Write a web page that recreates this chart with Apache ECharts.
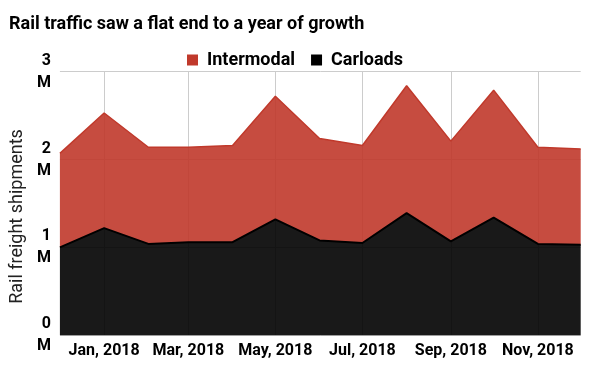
<!DOCTYPE html>
<html>
<head>
<meta charset="utf-8">
<script src="https://cdn.jsdelivr.net/npm/echarts@6/dist/echarts.min.js"></script>
<style>html,body{margin:0;padding:0;background:#fff}#c{width:600px;height:371px}</style>
</head>
<body>
<div id="c"></div>
<script>
// Monthly data points (first of each month), values in millions of shipments
const dates = ['2017-12-01','2018-01-01','2018-02-01','2018-03-01','2018-04-01','2018-05-01','2018-06-01','2018-07-01','2018-08-01','2018-09-01','2018-10-01','2018-11-01','2018-12-01'];
const carloads   = [1.00, 1.22, 1.04, 1.06, 1.06, 1.32, 1.08, 1.05, 1.39, 1.07, 1.34, 1.04, 1.03];
const intermodal = [1.07, 1.31, 1.10, 1.08, 1.10, 1.40, 1.16, 1.11, 1.45, 1.14, 1.45, 1.10, 1.09];
const monthNames = ['Jan','Feb','Mar','Apr','May','Jun','Jul','Aug','Sep','Oct','Nov','Dec'];
const yTicks = [0, 1, 2, 3];

const chart = echarts.init(document.getElementById('c'), null, {renderer:'canvas'});
const font = 'Roboto';
chart.setOption({
  animation: false,
  title: {
    text: 'Rail traffic saw a flat end to a year of growth',
    left: 9, top: 15, padding: 0,
    textStyle: {fontFamily: font, fontSize: 18, fontWeight: 'bold', color: '#000'}
  },
  legend: {
    data: ['Intermodal', 'Carloads'],
    left: 187, top: 51, padding: 0,
    icon: 'rect', itemWidth: 11, itemHeight: 11, itemGap: 16,
    textStyle: {fontFamily: font, fontSize: 18, fontWeight: 'bold', color: '#000', padding: [0,0,0,4]}
  },
  grid: {left: 59.3, right: 19.3, top: 71.7, bottom: 35.7},
  xAxis: {
    type: 'time',
    min: dates[0], max: dates[dates.length-1],
    splitNumber: 6,
    axisLine: {show: false}, axisTick: {show: false},
    splitLine: {show: true, showMinLine: false, showMaxLine: false, lineStyle: {color: '#ccc', width: 1}},
    axisLabel: {
      fontFamily: font, fontSize: 16, fontWeight: 'bold', color: '#000', margin: 8,
      showMinLabel: false, showMaxLabel: false,
      formatter: function (v) { const d = new Date(v); return monthNames[d.getMonth()] + ', ' + d.getFullYear(); }
    }
  },
  yAxis: {
    type: 'value', min: yTicks[0], max: yTicks[yTicks.length-1], interval: 1,
    name: 'Rail freight shipments', nameLocation: 'middle', nameGap: 30,
    nameTextStyle: {fontFamily: font, fontSize: 18, color: '#222', padding: [0, 26, 0, 0]},
    axisLine: {show: false}, axisTick: {show: false},
    splitLine: {show: true, lineStyle: {color: '#ccc', width: 1}},
    axisLabel: {
      fontFamily: font, fontSize: 16, fontWeight: 'bold', color: '#000', lineHeight: 22, margin: 9,
      padding: [3, 0, 0, 0],
      formatter: function (v) { return v + '\nM'; }
    }
  },
  series: [
    {
      name: 'Carloads', type: 'line', stack: 'total', symbol: 'none',
      data: dates.map((d, i) => [d, carloads[i]]),
      itemStyle: {color: '#000'},
      lineStyle: {color: '#000', width: 2},
      areaStyle: {color: '#000', opacity: 0.9}
    },
    {
      name: 'Intermodal', type: 'line', stack: 'total', symbol: 'none',
      data: dates.map((d, i) => [d, intermodal[i]]),
      itemStyle: {color: '#c0392b'},
      lineStyle: {color: '#c0392b', width: 1.5},
      areaStyle: {color: '#c0392b', opacity: 0.9}
    }
  ]
});
</script>
</body>
</html>
